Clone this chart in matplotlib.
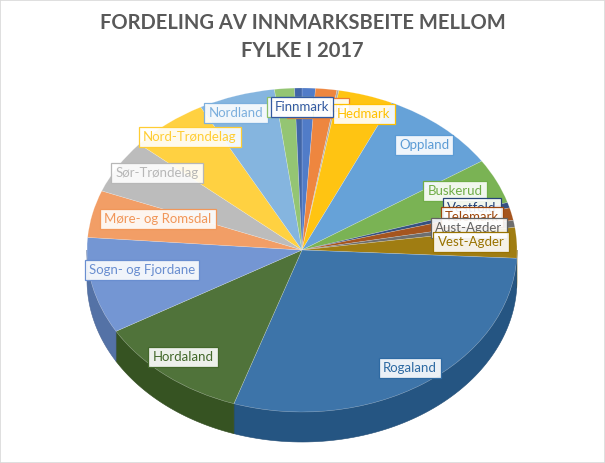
import numpy as np
import matplotlib
matplotlib.use('Agg')
import matplotlib.pyplot as plt
from matplotlib.colors import to_rgb
from matplotlib.patches import Polygon, Rectangle

# ---- data (share of innmarksbeite, %) ----
counties = ["Østfold", "Akershus", "Oslo", "Hedmark", "Oppland", "Buskerud",
            "Vestfold", "Telemark", "Aust-Agder", "Vest-Agder", "Rogaland",
            "Hordaland", "Sogn- og Fjordane", "Møre- og Romsdal",
            "Sør-Trøndelag", "Nord-Trøndelag", "Nordland", "Troms", "Finnmark"]
shares = [1.0, 1.6, 0.15, 4.1, 8.9, 4.5, 0.55, 1.25, 0.7, 3.05, 29.3,
          11.5, 9.6, 4.7, 5.4, 5.85, 5.75, 1.5, 0.55]
colors = ["#4472C4", "#ED7D31", "#A5A5A5", "#FFC000", "#5B9BD5", "#70AD47",
          "#264478", "#9E480E", "#636363", "#997300", "#2E6AA3", "#43682B",
          "#698ED0", "#F1975A", "#B7B7B7", "#FFCD33", "#7CAFDD", "#8CC168",
          "#335AA1"]
title = "FORDELING AV INNMARKSBEITE MELLOM\nFYLKE I 2017"

# ---- layout (pixels) ----
W, H = 605, 463
CX, CY, RA, RB = 302, 250, 215, 162
DEPTH = 30
label_px = [(305, 107), (318, 108), (312, 107), (364, 114), (424, 145),
            (455, 191), (472, 208), (472, 217), (469, 228), (471, 242),
            (410, 368), (183, 357), (142, 270), (158, 219), (157, 173),
            (190, 137), (236, 113), (290, 107), (302, 107)]


def px2d(px, py):
    return (px - CX) / RA, (CY - py) / RB


def lighten(c, f):
    c = np.array(to_rgb(c))
    return tuple(c + (1 - c) * f)


fig = plt.figure(figsize=(W / 100, H / 100), dpi=100)
ax = fig.add_axes([0, 0, 1, 1])

top_cols = [lighten(c, 0.07) for c in colors]
wedges, _ = ax.pie(shares, colors=top_cols, startangle=90, counterclock=False,
                   radius=1, center=(0, 0),
                   wedgeprops=dict(linewidth=0.4, edgecolor=(1, 1, 1, 0.3)))
for w in wedges:
    w.set_zorder(2)

ax.set_aspect('auto')
ax.set_xlim(-CX / RA, (W - CX) / RA)
ax.set_ylim((CY - H) / RB, CY / RB)
ax.axis('off')

# side walls
d = DEPTH / RB
cum = np.concatenate([[0], np.cumsum(shares)]) / np.sum(shares) * 360.0
for i, c in enumerate(colors):
    t1, t2 = max(cum[i], 90), min(cum[i + 1], 270)
    if t2 <= t1:
        continue
    th = np.radians(np.linspace(t1, t2, 80))
    xs, ys = np.sin(th), np.cos(th)
    pts = np.concatenate([np.column_stack([xs, ys]),
                          np.column_stack([xs[::-1], ys[::-1] - d])])
    base = np.array(to_rgb(c))
    ax.add_patch(Polygon(pts, closed=True, facecolor=base * 0.8,
                         edgecolor=base * 0.72, linewidth=0.4, zorder=1))

# labels
for i, (name, c) in enumerate(zip(counties, colors)):
    x, y = px2d(*label_px[i])
    ax.text(x, y, name, ha='center', va='center', fontsize=9.5,
            family=['Lato', 'DejaVu Sans'], color=c, zorder=10 + i,
            bbox=dict(boxstyle='square,pad=0.32', facecolor=(1, 1, 1, 0.9),
                      edgecolor=c, linewidth=0.9))

fig.text(0.5, 1 - 37 / H, title, ha='center', va='center', fontsize=14.5,
         fontweight='bold', color='#595959', family=['Lato', 'DejaVu Sans'],
         linespacing=1.45)

fig.patches.append(Rectangle((0, 0), 1, 1, transform=fig.transFigure,
                             fill=False, edgecolor='#D9D9D9', linewidth=1.2))

fig.savefig('out.png', dpi=100)
